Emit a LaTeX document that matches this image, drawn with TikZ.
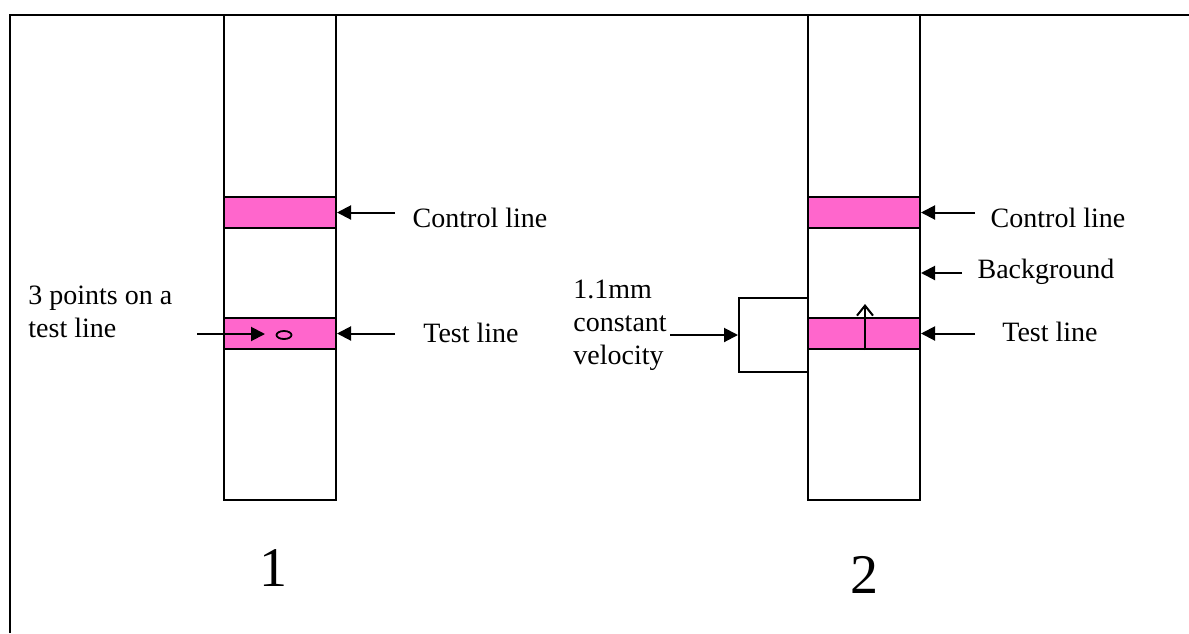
\documentclass[tikz,border=0pt]{standalone}
\usepackage{fontspec}
\setmainfont{Liberation Serif}
\usepackage{tikz}
\usetikzlibrary{shapes.geometric,arrows.meta,positioning}
\definecolor{bandpink}{HTML}{FF66CC}
\tikzstyle{strip} = [draw, line width=1pt, minimum width=56pt, minimum height=242.5pt, inner sep=0pt]
\tikzstyle{band} = [draw, fill=bandpink, line width=1pt, minimum width=56pt, minimum height=15.5pt, inner sep=0pt]
\tikzstyle{lbl} = [font=\fontsize{14}{16.5}\selectfont, inner sep=0pt]
\tikzstyle{num} = [font=\fontsize{28}{28}\selectfont, inner sep=0pt]
\tikzstyle{arr} = [draw, line width=1pt, -{Triangle[length=7pt,width=7pt]}]
\tikzstyle{uparr} = [draw, line width=1pt, -{Straight Barb[length=5pt,width=8pt]}]

\begin{document}
\begin{tikzpicture}[x=0.5pt, y=-0.5pt]
			\useasboundingbox (0,0) rectangle (1189,633);
			\draw [line width=1pt] (10,633) -- (10,15) -- (1189,15);

			\node [strip] (s1) at (280, 257.5) {};
			\node [band] (c1) at (280, 212.5) {};
			\node [band] (t1) at (280, 333.5) {};
			\node [ellipse, draw, line width=0.9pt, minimum width=7.5pt, minimum height=4pt, inner sep=0pt] (p) at (284, 335) {};
			\node [lbl] (c1txt) at (480, 218) {Control line};
			\node [lbl] (t1txt) at (471, 333) {Test line};
			\node [lbl, align=left, anchor=north west] (ptxt) at (28, 286) {3 points on a\\test line};
			\node [num] (n1) at (273, 568) {1};

			\node [strip] (s2) at (864, 257.5) {};
			\node [band] (c2) at (864, 212.5) {};
			\node [band] (t2) at (864, 333.5) {};
			\node [draw, line width=1pt, minimum width=34.5pt, minimum height=37pt, inner sep=0pt] (gap) at (773.5, 335) {};
			\node [lbl] (c2txt) at (1058, 218) {Control line};
			\node [lbl] (bgtxt) at (1046, 272) {Background};
			\node [lbl] (t2txt) at (1050, 332) {Test line};
			\node [lbl, align=left, anchor=north west] (vtxt) at (573, 280) {1.1mm\\constant\\velocity};
			\node [num] (n2) at (864, 575) {2};

			\coordinate (a1) at (395, 212.5);
			\coordinate (a2) at (395, 333.5);
			\coordinate (a3) at (197, 334);
			\coordinate (a3e) at (265, 334);
			\coordinate (a4) at (975, 212.5);
			\coordinate (a5) at (962, 273);
			\coordinate (a5e) at (921, 273);
			\coordinate (a6) at (975, 333.5);
			\coordinate (a7) at (670, 335);
			\coordinate (vtip) at (865, 304);

			\path [arr] (a1) -- (c1.east);
			\path [arr] (a2) -- (t1.east);
			\path [arr] (a3) -- (a3e);
			\path [arr] (a4) -- (c2.east);
			\path [arr] (a5) -- (a5e);
			\path [arr] (a6) -- (t2.east);
			\path [arr] (a7) -- (gap.west);
			\path [uparr] (t2.south -| vtip) -- (vtip);
		\end{tikzpicture}
\end{document}
